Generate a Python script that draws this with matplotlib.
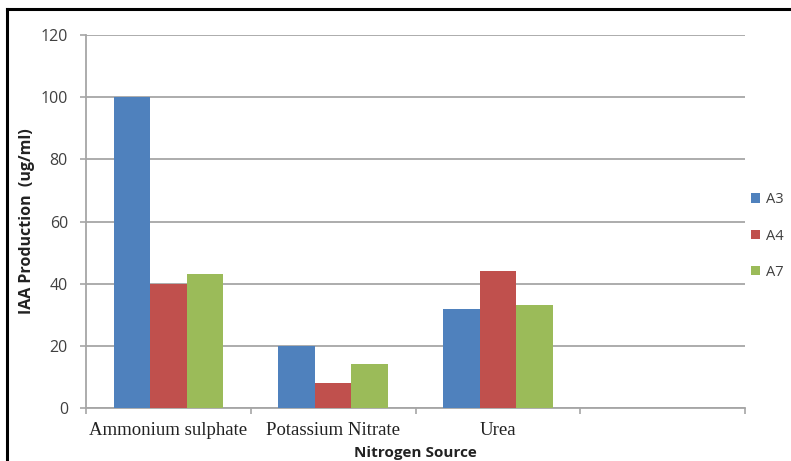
import matplotlib
matplotlib.use("Agg")
import matplotlib.pyplot as plt
from matplotlib.lines import Line2D
import numpy as np

sources = ["Ammonium sulphate", "Potassium Nitrate", "Urea", ""]
series_names = ["A3", "A4", "A7"]
a3 = [100, 20, 32, 0]
a4 = [40, 8, 44, 0]
a7 = [43, 14, 33, 0]
colors = ["#4F81BD", "#C0504D", "#9BBB59"]

W, H = 791, 461
fig = plt.figure(figsize=(W / 100, H / 100), dpi=100)
ax = fig.add_axes([86 / W, 53 / H, 659 / W, 373 / H])

x = np.arange(len(sources))
width = 0.222
for i, (vals, name) in enumerate(zip([a3, a4, a7], series_names)):
    ax.bar(x + (i - 1) * width, vals, width, color=colors[i], label=name, zorder=3)

ax.set_xlim(-0.5, len(sources) - 0.5)
ax.set_ylim(0, 120)
ax.set_yticks(np.arange(0, 121, 20))
ax.yaxis.grid(True, color="#A6A6A6", linewidth=1.3, zorder=0)
ax.set_axisbelow(True)

for s in ["top", "right"]:
    ax.spines[s].set_visible(False)
for s in ["left", "bottom"]:
    ax.spines[s].set_color("#A6A6A6")
    ax.spines[s].set_linewidth(1.3)

# category labels sit between the boundary ticks
ax.set_xticks(np.arange(-0.5, len(sources), 1.0))
ax.set_xticklabels([])
ax.set_xticks(x, minor=True)
ax.set_xticklabels(sources, minor=True, family="Liberation Serif", fontsize=13.5, color="#222222")
ax.tick_params(axis="x", which="major", direction="out", length=4, color="#A6A6A6", width=1.2)
ax.tick_params(axis="x", which="minor", length=0, pad=10)
ax.tick_params(axis="y", direction="out", length=4, color="#A6A6A6", width=1.2, pad=9,
               labelsize=11.5, labelcolor="#404040")
for lab in ax.get_yticklabels():
    lab.set_family("Open Sans")

ax.set_ylabel("IAA Production  (ug/ml)", fontsize=11.5, fontweight="bold", family="Open Sans",
              color="#222222", labelpad=4)
ax.set_xlabel("Nitrogen Source", fontsize=11, fontweight="bold", family="Open Sans",
              color="#222222", labelpad=5)

leg = fig.legend(loc="center left", bbox_to_anchor=(751 / W, 1 - 236 / H), frameon=False,
                 handlelength=0.65, handleheight=0.65, handletextpad=0.35,
                 labelspacing=1.45, borderpad=0, borderaxespad=0,
                 prop={"family": "Open Sans", "size": 10.5})
for t in leg.get_texts():
    t.set_color("#404040")

# frame edges along the top and left
fig.add_artist(Line2D([7 / W, 1], [1 - 9 / H, 1 - 9 / H], color="black", linewidth=2.2,
                      transform=fig.transFigure))
fig.add_artist(Line2D([7 / W, 7 / W], [0, 1 - 9 / H], color="black", linewidth=2.2,
                      transform=fig.transFigure))

fig.savefig("out.png", dpi=100)
